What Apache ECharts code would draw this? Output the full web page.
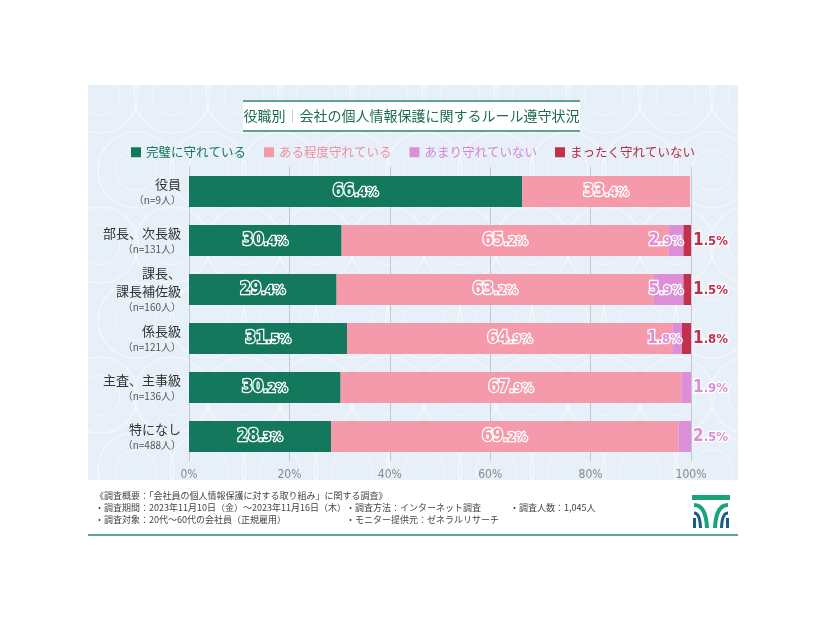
<!DOCTYPE html>
<html><head><meta charset="utf-8">
<script src="https://cdn.jsdelivr.net/npm/echarts@6/dist/echarts.min.js"></script>
<style>html,body{margin:0;padding:0;background:#fff}#c{width:826px;height:620px}</style>
</head><body><div id="c"></div>
<script>
const categories = ['役員', '部長、次長級', '課長、\n課長補佐級', '係長級', '主査、主事級', '特になし'];
const sampleSizes = ['（n=9人）', '（n=131人）', '（n=160人）', '（n=121人）', '（n=136人）', '（n=488人）'];
const seriesNames = ['完璧に守れている', 'ある程度守れている', 'あまり守れていない', 'まったく守れていない'];
const fullyKept = [66.4, 30.4, 29.4, 31.5, 30.2, 28.3];
const somewhatKept = [33.4, 65.2, 63.2, 64.9, 67.9, 69.2];
const notReallyKept = [0, 2.9, 5.9, 1.8, 1.9, 2.5];
const notAtAllKept = [0, 1.5, 1.5, 1.8, 0, 0];
const xTicks = [0, 20, 40, 60, 80, 100];
const colors = ['#13785c', '#f49aaa', '#dc8fd8', '#c2304c'];
const legendTextColors = ['#13785c', '#f08d9f', '#d685d3', '#b52a44'];

const FONT = 'DejaVu Sans Condensed';
function labelRich(color) {
  return {
    i: {fontFamily: FONT, fontWeight: 'bold', fontSize: 17, color: color, textBorderColor: '#fff', textBorderWidth: 2.5},
    d: {fontFamily: FONT, fontWeight: 'bold', fontSize: 13, color: color, textBorderColor: '#fff', textBorderWidth: 2.5, padding: [2, 0, 0, 0]}
  };
}
function fmt(p) {
  const v = p.value;
  if (!v) return '';
  const s = v.toFixed(1).split('.');
  return '{i|' + s[0] + '}{d|.' + s[1] + '%}';
}
function mkSeries(idx, vals, position) {
  return {
    name: seriesNames[idx], type: 'bar', stack: 'total', barWidth: 31,
    itemStyle: {color: colors[idx]},
    label: {show: true, position: position, distance: 2, formatter: fmt, rich: labelRich(colors[idx])},
    data: vals
  };
}
const purpleData = notReallyKept.map((v, i) => ({
  value: v,
  label: {position: notAtAllKept[i] > 0 ? 'insideRight' : 'right', distance: notAtAllKept[i] > 0 ? 0 : 2}
}));

const JP = 'Noto Sans CJK JP';
function foot(x, y, t) {
  return {type: 'text', x: x, y: y, style: {text: t, fontSize: 9, fill: '#444', fontFamily: JP}};
}
function curve(x1, y1, cx, cy, x2, y2, c, w) {
  return {type: 'bezierCurve', shape: {x1: x1, y1: y1, cpx1: cx, cpy1: cy, x2: x2, y2: y2}, style: {stroke: c, lineWidth: w, fill: null}};
}
// decorative lace-like background circles (white, invisible outside the blue panel)
const deco = [];
for (let r = 0; r < 6; r++) {
  for (let c = 0; c < 10; c++) {
    const cx = 100 + c * 72 + (r % 2) * 36, cy = 95 + r * 75;
    deco.push({type: 'circle', silent: true, shape: {cx: cx, cy: cy, r: 38}, style: {fill: null, stroke: 'rgba(255,255,255,0.6)', lineWidth: 1.2}});
    deco.push({type: 'circle', silent: true, shape: {cx: cx, cy: cy, r: 20}, style: {fill: null, stroke: 'rgba(255,255,255,0.5)', lineWidth: 1}});
  }
}

const chart = echarts.init(document.getElementById('c'));
chart.setOption({
  backgroundColor: '#ffffff',
  animation: false,
  graphic: [
    {type: 'rect', z: -10, silent: true, shape: {x: 88, y: 85, width: 650, height: 395}, style: {fill: '#e7f0f9'}},
    {type: 'group', z: -9, silent: true, children: deco},
    {type: 'rect', z: -8, shape: {x: 243, y: 101, width: 337, height: 30}, style: {fill: '#ffffff'}},
    {type: 'line', shape: {x1: 243, y1: 101, x2: 580, y2: 101}, style: {stroke: '#2a8a70', lineWidth: 1.5}},
    {type: 'line', shape: {x1: 243, y1: 131, x2: 580, y2: 131}, style: {stroke: '#2a8a70', lineWidth: 1.5}},
    {type: 'text', x: 411.5, y: 116, style: {text: '{a|役職別}{s|｜}{a|会社の個人情報保護に関するルール遵守状況}', align: 'center', verticalAlign: 'middle',
      rich: {a: {fontSize: 14, fill: '#1c6b52', fontFamily: JP}, s: {fontSize: 14, fill: '#a9b4b4', fontFamily: JP}}}},
    {type: 'rect', z: -8, shape: {x: 88, y: 480, width: 650, height: 60}, style: {fill: '#ffffff'}},
    foot(95, 491, '《調査概要：「会社員の個人情報保護に対する取り組み」に関する調査》'),
    foot(95, 503, '・調査期間：2023年11月10日（金）～2023年11月16日（木）'),
    foot(95, 515, '・調査対象：20代～60代の会社員（正規雇用）'),
    foot(346, 503, '・調査方法：インターネット調査'),
    foot(346, 515, '・モニター提供元：ゼネラルリサーチ'),
    foot(510, 503, '・調査人数：1,045人'),
    {type: 'line', shape: {x1: 88, y1: 535, x2: 738, y2: 535}, style: {stroke: '#2a8a70', lineWidth: 1.5}},
    {type: 'group', x: 692, y: 495, children: [
      {type: 'rect', shape: {x: 0, y: 0, width: 38, height: 5}, style: {fill: '#1aa37a'}},
      curve(2, 10, 14, 10, 15, 33, '#1aa37a', 4),
      curve(36, 10, 24, 10, 23, 33, '#1aa37a', 4),
      curve(2, 18, 8, 18, 8.5, 33, '#1a5c8a', 3),
      curve(36, 18, 30, 18, 29.5, 33, '#1a5c8a', 3),
      {type: 'rect', shape: {x: 1, y: 23, width: 3, height: 10}, style: {fill: '#1a5c8a'}},
      {type: 'rect', shape: {x: 34, y: 23, width: 3, height: 10}, style: {fill: '#1a5c8a'}}
    ]}
  ],
  legend: {
    top: 141, left: 'center', itemWidth: 10, itemHeight: 10, icon: 'rect', itemGap: 18,
    data: seriesNames.map((n, i) => ({name: n, textStyle: {color: legendTextColors[i], fontSize: 12.5, fontFamily: JP}}))
  },
  grid: {left: 189, right: 135, top: 167, height: 294},
  xAxis: {
    type: 'value', min: xTicks[0], max: xTicks[xTicks.length - 1], interval: 20,
    axisLine: {show: false}, axisTick: {show: false},
    splitLine: {lineStyle: {color: '#c3c8cf', width: 1}},
    axisLabel: {formatter: '{value}%', color: '#888', fontSize: 12, fontFamily: FONT, margin: 8}
  },
  yAxis: {
    type: 'category', inverse: true, data: categories,
    axisLine: {show: true, lineStyle: {color: '#c3c8cf'}}, axisTick: {show: false},
    axisLabel: {
      margin: 8, align: 'right',
      formatter: function (v, i) {
        return v.split('\n').map(s => '{a|' + s + '}').join('\n') + '\n{n|' + sampleSizes[i] + '}';
      },
      rich: {
        a: {fontSize: 13, color: '#333', lineHeight: 18, fontFamily: JP, align: 'right'},
        n: {fontSize: 10, color: '#555', lineHeight: 15, fontFamily: JP, align: 'right'}
      }
    }
  },
  series: [
    mkSeries(0, fullyKept, 'inside'),
    mkSeries(1, somewhatKept, 'inside'),
    mkSeries(2, purpleData, 'insideRight'),
    mkSeries(3, notAtAllKept, 'right')
  ]
});
</script></body></html>
